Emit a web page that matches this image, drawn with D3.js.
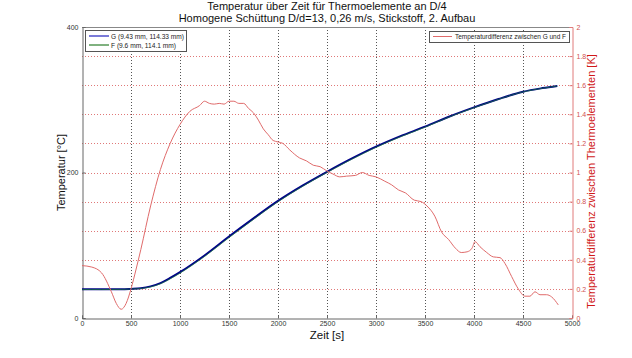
<!DOCTYPE html>
<html><head><meta charset="utf-8">
<script src="https://cdn.jsdelivr.net/npm/d3@7"></script>
<style>body{margin:0;background:#fff}svg{display:block;font-family:"Liberation Sans",Arial,sans-serif}</style>
</head><body><svg id="c" width="632" height="358"></svg>
<script>
const titleLines = ["Temperatur über Zeit für Thermoelemente an D/4", "Homogene Schüttung D/d=13, 0,26 m/s, Stickstoff, 2. Aufbau"];
const xLabel = "Zeit [s]";
const yLabelLeft = "Temperatur [°C]";
const yLabelRight = "Temperaturdifferenz zwischen Thermoelementen [K]";
const legendLeft = ["G (9.43 mm, 114.33 mm)", "F (9.6 mm, 114.1 mm)"];
const legendRight = ["Temperaturdifferenz zwischen G und F"];
const xTicks = [0,500,1000,1500,2000,2500,3000,3500,4000,4500,5000];
const yTicksLeft = [0,200,400];
const yTicksRight = [0,0.2,0.4,0.6,0.8,1,1.2,1.4,1.6,1.8,2];

const timeT = [0,100,200,300,400,500,600,700,800,900,1000,1250,1500,1750,2000,2250,2500,2750,3000,3250,3500,3750,4000,4250,4500,4700,4850];
const tempG = [39.5,39.5,39.4,39.4,39.4,40,41,43.5,48,55,63,86,112,137,161,182,201,219,235.5,250,263,277,289.5,301,311,316,319];
const tempF = [39.1,39.2,39.1,39.2,39.3,39.8,40.5,42.7,47,53.8,61.7,84.5,110.5,135.6,159.8,180.9,200,218,234.5,249.1,262.2,276.5,289,300.6,310.8,315.8,318.9];

const diffTime = [0,100,200,300,350,400,450,500,550,600,700,800,900,1000,1100,1200,1250,1300,1350,1400,1450,1500,1550,1600,1650,1700,1750,1800,1850,1900,1950,2000,2050,2120,2220,2290,2360,2430,2500,2560,2630,2700,2790,2860,2930,3000,3090,3160,3230,3300,3390,3460,3520,3600,3670,3740,3810,3870,3930,3980,4010,4061,4130,4197,4265,4316,4384,4452,4520,4571,4622,4673,4741,4792,4860];
const diffValue = [0.36,0.35,0.31,0.18,0.10,0.06,0.10,0.20,0.33,0.47,0.77,1.02,1.20,1.33,1.42,1.46,1.49,1.475,1.47,1.475,1.47,1.49,1.49,1.475,1.475,1.44,1.41,1.36,1.30,1.26,1.22,1.21,1.20,1.155,1.10,1.08,1.05,1.04,1.01,0.99,0.97,0.975,0.98,1.00,0.98,0.97,0.94,0.915,0.88,0.86,0.81,0.80,0.77,0.70,0.59,0.54,0.48,0.45,0.455,0.48,0.525,0.49,0.45,0.42,0.415,0.375,0.285,0.20,0.15,0.15,0.18,0.16,0.16,0.145,0.09];

const L = 82, R = 572, T = 27, B = 318;
const svg = d3.select("#c");
const x = d3.scaleLinear().domain([0,5000]).range([L,R]);
const yL = d3.scaleLinear().domain([0,400]).range([B,T]);
const yR = d3.scaleLinear().domain([0,2]).range([B,T]);

// grid
svg.append("g").selectAll("line").data(xTicks.filter(d=>d>0&&d<5000)).join("line")
  .attr("x1",d=>Math.round(x(d))+0.5).attr("x2",d=>Math.round(x(d))+0.5).attr("y1",T).attr("y2",B)
  .attr("stroke","#555").attr("stroke-dasharray","1,2").attr("stroke-width",1);
svg.append("g").selectAll("line").data(yTicksRight.filter(d=>d>0&&d<2)).join("line")
  .attr("x1",L).attr("x2",R).attr("y1",d=>Math.round(yR(d))+0.5).attr("y2",d=>Math.round(yR(d))+0.5)
  .attr("stroke","#e07878").attr("stroke-dasharray","1,2").attr("stroke-width",1);

// box top
svg.append("line").attr("x1",L).attr("x2",R).attr("y1",T+0.5).attr("y2",T+0.5).attr("stroke","#888");

// axes
const fmtR = d=> d.toString();
const gx = svg.append("g").attr("transform",`translate(0,${B+0.5})`).call(d3.axisBottom(x).tickValues(xTicks).tickSize(-3).tickPadding(3).tickFormat(d3.format("d")));
const gl = svg.append("g").attr("transform",`translate(${L+0.5},0)`).call(d3.axisLeft(yL).tickValues(yTicksLeft).tickSize(-3).tickPadding(4));
const gr = svg.append("g").attr("transform",`translate(${R+0.5},0)`).call(d3.axisRight(yR).tickValues(yTicksRight).tickSize(-3).tickPadding(4).tickFormat(fmtR));
[gx,gl].forEach(g=>{g.select(".domain").attr("stroke","#666");g.selectAll(".tick line").attr("stroke","#666");g.selectAll("text").attr("fill","#333").style("font-size","7px").attr("font-family","Liberation Sans, Arial, sans-serif");});
gr.select(".domain").attr("stroke","#e07a7a");
gr.selectAll(".tick line").attr("stroke","#e07a7a");
gr.selectAll("text").attr("fill","#d05050").style("font-size","7px").attr("font-family","Liberation Sans, Arial, sans-serif");

// lines
const lineG = d3.line().x((d,i)=>x(timeT[i])).y(d=>yL(d)).curve(d3.curveMonotoneX);
svg.append("path").attr("d",lineG(tempG)).attr("fill","none").attr("stroke","#00008a").attr("stroke-width",2);
svg.append("path").attr("d",lineG(tempF)).attr("fill","none").attr("stroke","#1a7a3a").attr("stroke-width",1).attr("opacity",0.7);
const lineD = d3.line().x((d,i)=>x(diffTime[i])).y(d=>yR(d)).curve(d3.curveMonotoneX);
svg.append("path").attr("d",lineD(diffValue)).attr("fill","none").attr("stroke","#e06b6b").attr("stroke-width",1);

// legends
const lg = svg.append("g");
lg.append("rect").attr("x",85.5).attr("y",30.5).attr("width",101).attr("height",21).attr("fill","#fff").attr("stroke","#555");
const legColors = ["#7a7ad8","#006400"], legW=[2,1], legLen=[73,65];
legendLeft.forEach((s,i)=>{
  const yy = 36 + i*9;
  lg.append("line").attr("x1",89).attr("x2",109).attr("y1",yy).attr("y2",yy).attr("stroke",legColors[i]).attr("stroke-width",legW[i]);
  lg.append("text").attr("x",111).attr("y",yy+2.5).text(s).style("font-size","6.5px").attr("fill","#222")
    .attr("textLength",legLen[i]).attr("lengthAdjust","spacingAndGlyphs");
});
const lg2 = svg.append("g");
lg2.append("rect").attr("x",429.5).attr("y",31.5).attr("width",140).attr("height",11).attr("fill","#fff").attr("stroke","#555");
lg2.append("line").attr("x1",433).attr("x2",452).attr("y1",36.5).attr("y2",36.5).attr("stroke","#e06b6b");
lg2.append("text").attr("x",455).attr("y",39).text(legendRight[0]).style("font-size","6.5px").attr("fill","#222")
  .attr("textLength",111).attr("lengthAdjust","spacingAndGlyphs");

// titles
titleLines.forEach((s,i)=>svg.append("text").attr("x",(L+R)/2).attr("y",10+i*11.5).attr("text-anchor","middle").style("font-size","11px").attr("fill","#111").text(s));
svg.append("text").attr("x",(L+R)/2).attr("y",339).attr("text-anchor","middle").style("font-size","11.5px").attr("fill","#111").text(xLabel);
svg.append("text").attr("transform",`translate(65,${(T+B)/2}) rotate(-90)`).attr("text-anchor","middle").style("font-size","11px").attr("fill","#111").text(yLabelLeft);
svg.append("text").attr("transform",`translate(595,${(T+B)/2+9}) rotate(-90)`).attr("text-anchor","middle").style("font-size","11px").attr("fill","#d01818").text(yLabelRight);
</script></body></html>
